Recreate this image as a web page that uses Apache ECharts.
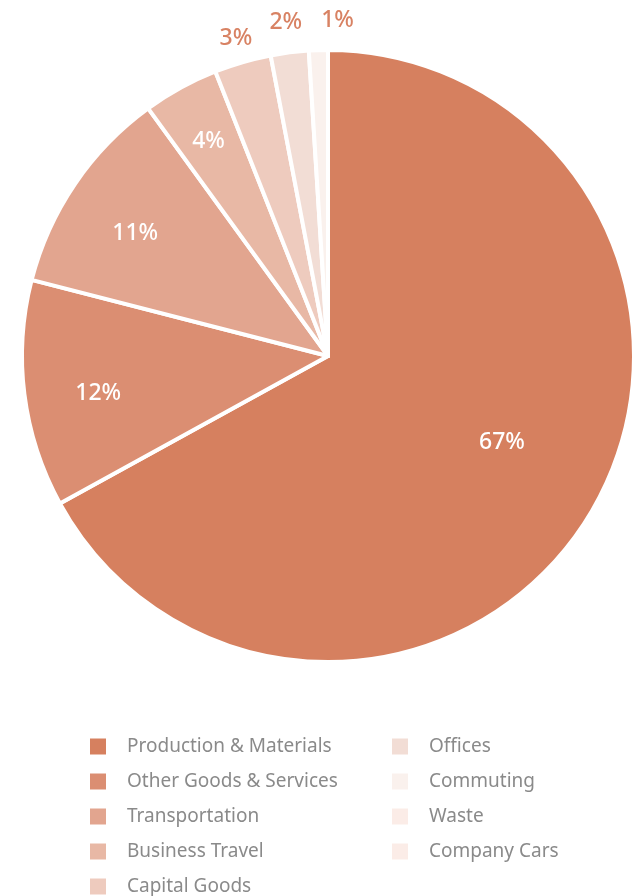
<!DOCTYPE html>
<html>
<head>
<meta charset="utf-8">
<script src="https://cdn.jsdelivr.net/npm/echarts@6/dist/echarts.min.js"></script>
<style>
  html, body {margin: 0; padding: 0; background: #fff;}
  #main {width: 632px; height: 896px;}
</style>
</head>
<body>
<div id="main"></div>
<script>
// emissions share by category (percent)
const categories = ['Production & Materials', 'Other Goods & Services', 'Transportation', 'Business Travel',
    'Capital Goods', 'Offices', 'Commuting', 'Waste', 'Company Cars']
const shares = [67, 12, 11, 4, 3, 2, 1, 0, 0]
const colors = ['#d6805f', '#db8e72', '#e2a58f', '#e8b8a5', '#eecbbe', '#f2ddd5', '#faf1ed', '#fbece7', '#fbece7']

// label placement: distance from centre (fraction of radius) and small nudges, style only
const labelDist = [0.63, 0.77, 0.75, 0.81, 1.09, 1.1, 1.09]
const labelNudge = [[8, -12], [4, 8], [-3, 6], [0, 3], [1, 3], [0, 0], [20, -2]]
const CX = 328, CY = 356, R = 306

const legendBase = {
    orient: 'vertical',
    top: 737,
    padding: 0,
    itemWidth: 16,
    itemHeight: 16,
    itemGap: 16,
    icon: 'rect',
    itemStyle: {borderWidth: 0},
    textStyle: {fontFamily: 'Noto Sans', fontSize: 19, color: '#8a8a8a', padding: [0, 0, 0, 16]}
}

let myChart = echarts.init(document.getElementById('main'))
myChart.setOption({
    animation: false,
    color: colors,
    legend: [
        Object.assign({}, legendBase, {left: 90, data: categories.slice(0, 5)}),
        Object.assign({}, legendBase, {left: 392, data: categories.slice(5)})
    ],
    series: [
        {
            type: 'pie',
            center: [CX, CY],
            radius: [0, R],
            startAngle: 90,
            clockwise: true,
            avoidLabelOverlap: false,
            itemStyle: {
                borderColor: '#fff',
                borderWidth: 4
            },
            label: {
                position: 'inside',
                formatter: p => p.value + '%',
                fontFamily: 'Noto Sans',
                fontSize: 23,
                fontWeight: 500,
                color: '#fff'
            },
            labelLine: {show: false},
            emphasis: {disabled: true},
            labelLayout: function (params) {
                const i = params.dataIndex
                const d = labelDist[i]
                if (d == null) return {}
                const r = params.labelRect
                const lx = r.x + r.width / 2 - CX
                const ly = r.y + r.height / 2 - CY
                const len = Math.sqrt(lx * lx + ly * ly) || 1
                return {
                    x: CX + lx / len * R * d + labelNudge[i][0],
                    y: CY + ly / len * R * d + labelNudge[i][1],
                    align: 'center',
                    verticalAlign: 'middle'
                }
            },
            data: categories.map((name, i) => ({
                name: name,
                value: shares[i],
                label: shares[i] === 0 ? {show: false}
                    : (shares[i] <= 3 ? {color: '#d88263'} : {})
            }))
        }
    ]
})
</script>
</body>
</html>
